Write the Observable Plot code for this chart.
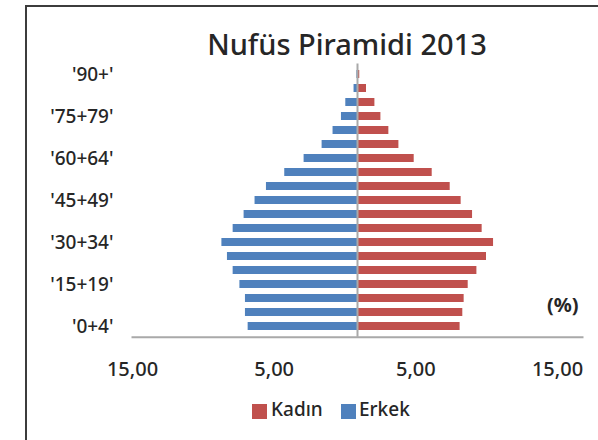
<!DOCTYPE html>
<html><head><meta charset="utf-8">
<script src="https://cdn.jsdelivr.net/npm/d3@7"></script>
<script src="https://cdn.jsdelivr.net/npm/@observablehq/plot@0.6"></script>
<style>
body{margin:0;background:#fff;font-family:"Noto Sans",sans-serif;color:#262626;}
#wrap{position:relative;width:598px;height:440px;overflow:hidden;background:#fff;}
#wrap svg{position:absolute;left:0;top:0;}
#border{position:absolute;left:25px;top:5px;width:600px;height:460px;border-left:2px solid #3c3c3c;border-top:2px solid #3c3c3c;}
#title{position:absolute;left:0;width:694px;top:29px;text-align:center;font-size:29px;line-height:29px;font-weight:500;white-space:nowrap;}
#pct{position:absolute;left:547px;top:295px;font-size:20px;line-height:20px;font-weight:700;}
.leg{position:absolute;top:400px;font-size:19px;line-height:19px;font-weight:500;}
.sw{position:absolute;top:404px;width:15px;height:15px;}
</style>
</head><body>
<div id="wrap">
  <div id="border"></div>
  <div id="title">Nufüs Piramidi 2013</div>
  <div id="pct">(%)</div>
  <div class="sw" id="swK"></div><div class="leg" style="left:271px">Kadın</div>
  <div class="sw" id="swE"></div><div class="leg" style="left:359px">Erkek</div>
</div>
<script>
// Age groups, bottom to top
const ages = ["'0+4'","'5+9'","'10+14'","'15+19'","'20+24'","'25+29'","'30+34'","'35+39'","'40+44'","'45+49'","'50+54'","'55+59'","'60+64'","'65+69'","'70+74'","'75+79'","'80+84'","'85+89'","'90+'"];
// Erkek (male) shares, %
const erkek = [7.29, 7.47, 7.47, 7.84, 8.29, 8.67, 9.04, 8.29, 7.56, 6.83, 6.07, 4.85, 3.56, 2.36, 1.63, 1.07, 0.78, 0.23, 0.04];
// Kadın (female) shares, %
const kadin = [6.84, 7.02, 7.11, 7.38, 7.96, 8.60, 9.07, 8.31, 7.67, 6.91, 6.18, 4.98, 3.78, 2.76, 2.09, 1.56, 1.16, 0.60, 0.15];
const series = ["Kadın", "Erkek"];
const colors = ["#C0504D", "#4F81BD"];
const yTickLabels = ["'0+4'","'15+19'","'30+34'","'45+49'","'60+64'","'75+79'","'90+'"];
const xTicks = [-15, -5, 5, 15];
const xTickLabels = ["15,00", "5,00", "5,00", "15,00"];

document.getElementById("swK").style.cssText += `left:252px;background:${colors[0]}`;
document.getElementById("swE").style.cssText += `left:341px;background:${colors[1]}`;

const rows = [];
ages.forEach((a, i) => {
  rows.push({age: a, sex: "Erkek", value: -erkek[i]});
  rows.push({age: a, sex: "Kadın", value: kadin[i]});
});

const left = 132, right = 582;
const xAxes = xTicks.map((v, i) => Plot.axisX([v], {
  tickSize: 0, tickPadding: 25, fontSize: 20, fontWeight: 500, label: null,
  tickFormat: () => xTickLabels[i],
  dx: -(v + 15) * 25 / 30
}));

const chart = Plot.plot({
  width: 598, height: 440,
  marginTop: 63.6, marginBottom: 103.3, marginLeft: left, marginRight: 598 - right,
  style: {fontFamily: "Noto Sans", color: "#262626", background: "transparent"},
  x: {domain: [-15, 15], label: null},
  y: {type: "band", domain: ages, reverse: true, paddingInner: 0.44, paddingOuter: 0.22, label: null},
  color: {domain: series, range: colors},
  marks: [
    Plot.barX(rows, {y: "age", x: "value", fill: "sex"}),
    Plot.ruleX([0], {stroke: "#a9a9a9", strokeWidth: 2}),
    Plot.frame({anchor: "bottom", stroke: "#a9a9a9", strokeWidth: 2}),
    Plot.axisY(yTickLabels, {tickSize: 0, tickPadding: 19, fontSize: 19, fontWeight: 500, label: null}),
    ...xAxes
  ]
});
document.getElementById("wrap").insertBefore(chart, document.getElementById("border"));
</script>
</body></html>
